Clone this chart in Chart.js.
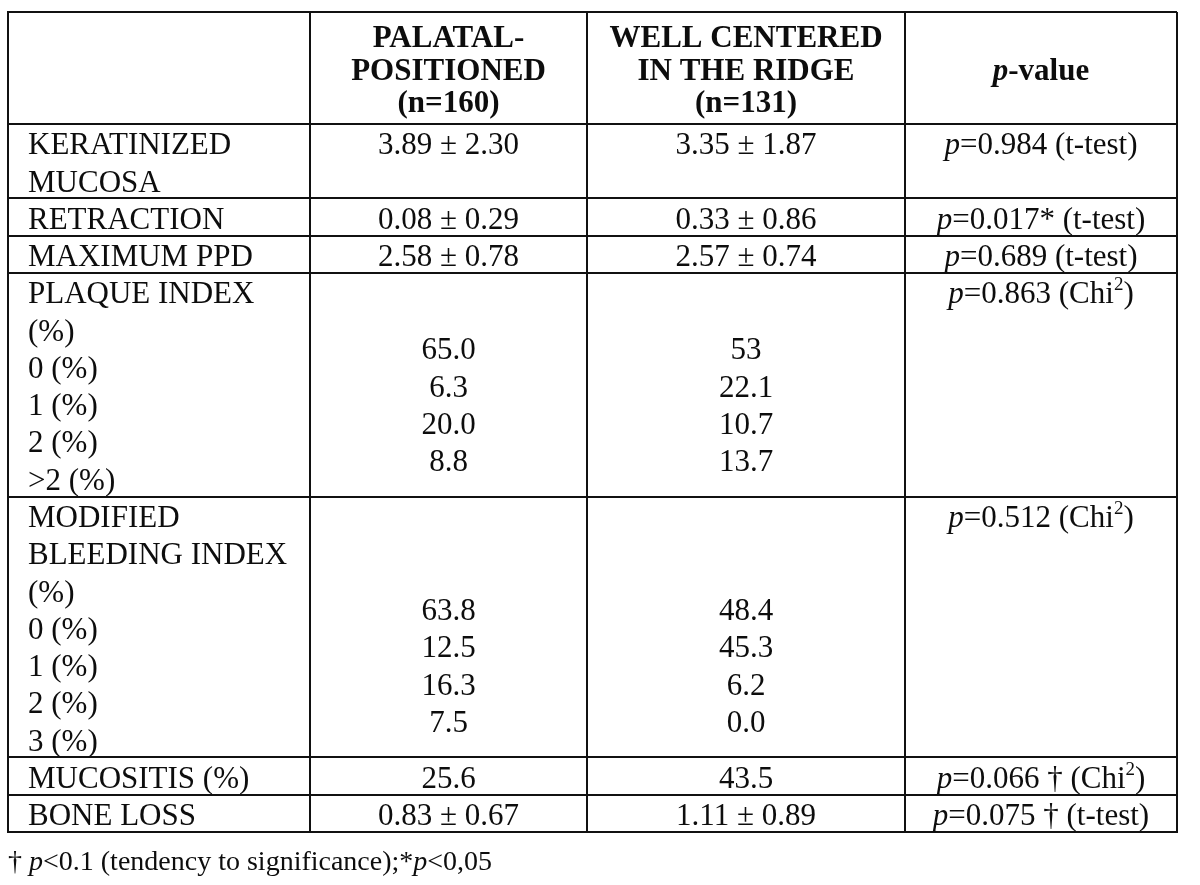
<!DOCTYPE html>
<html>
<head>
<meta charset="utf-8">
<script src="https://cdn.jsdelivr.net/npm/chart.js@4.4.1/dist/chart.umd.min.js"></script>
<style>
  html, body { margin: 0; padding: 0; background: #fff; }
  #wrap { width: 1200px; height: 885px; }
</style>
</head>
<body>
<div id="wrap"><canvas id="table-chart" width="1200" height="885"></canvas></div>
<script>
// table content
const headPalatal = ["PALATAL-", "POSITIONED", "(n=160)"];
const headCentered = ["WELL CENTERED", "IN THE RIDGE", "(n=131)"];
const headPValue = ["", "p-value", ""];

const rowLabels = [
  ["KERATINIZED", "MUCOSA"],
  ["RETRACTION"],
  ["MAXIMUM PPD"],
  ["PLAQUE INDEX", "(%)", "0 (%)", "1 (%)", "2 (%)", ">2 (%)"],
  ["MODIFIED", "BLEEDING INDEX", "(%)", "0 (%)", "1 (%)", "2 (%)", "3 (%)"],
  ["MUCOSITIS (%)"],
  ["BONE LOSS"],
];
const palatalValues = [
  ["3.89 ± 2.30"], ["0.08 ± 0.29"], ["2.58 ± 0.78"],
  ["65.0", "6.3", "20.0", "8.8"],
  ["63.8", "12.5", "16.3", "7.5"],
  ["25.6"], ["0.83 ± 0.67"],
];
const centeredValues = [
  ["3.35 ± 1.87"], ["0.33 ± 0.86"], ["2.57 ± 0.74"],
  ["53", "22.1", "10.7", "13.7"],
  ["48.4", "45.3", "6.2", "0.0"],
  ["43.5"], ["1.11 ± 0.89"],
];
const pValues = [
  "p=0.984 (t-test)", "p=0.017* (t-test)", "p=0.689 (t-test)",
  "p=0.863 (Chi^2)", "p=0.512 (Chi^2)",
  "p=0.066 † (Chi^2)", "p=0.075 † (t-test)",
];
const footnote = "† p<0.1 (tendency to significance);*p<0,05";

// layout
const colWidths = [302, 277, 318, 272];
const FONT = '"Liberation Serif", "Times New Roman", serif';
const SIZE = 31;
const HEAD_SPACING = 0.88; // header lines sit a bit closer than body lines

const colEdges = [0];
colWidths.forEach(w => colEdges.push(colEdges[colEdges.length - 1] + w));
const rowLines = [headPalatal.length].concat(rowLabels.map(r => r.length));
const rowEdges = [0];
rowLines.forEach(n => rowEdges.push(rowEdges[rowEdges.length - 1] + n));

function segments(text) {
  const out = [];
  const re = /p(?=[=<-])|\^(\d)/g;
  let last = 0, m;
  while ((m = re.exec(text))) {
    if (m.index > last) out.push({ t: text.slice(last, m.index), s: "n" });
    if (m[1]) out.push({ t: m[1], s: "sup" });
    else out.push({ t: "p", s: "i" });
    last = re.lastIndex;
  }
  if (last < text.length) out.push({ t: text.slice(last), s: "n" });
  return out;
}

function fontFor(s, size, bold) {
  const w = bold ? "bold " : "";
  if (s === "i") return "italic " + w + size + "px " + FONT;
  if (s === "sup") return w + Math.round(size * 0.62) + "px " + FONT;
  return w + size + "px " + FONT;
}

function drawRich(ctx, text, x, y, align, size, bold) {
  const segs = segments(text);
  let total = 0;
  segs.forEach(sg => {
    ctx.font = fontFor(sg.s, size, bold);
    sg.w = ctx.measureText(sg.t).width;
    total += sg.w;
  });
  let cx = align === "center" ? x - total / 2 : x;
  ctx.textAlign = "left";
  segs.forEach(sg => {
    ctx.font = fontFor(sg.s, size, bold);
    ctx.fillText(sg.t, cx, sg.s === "sup" ? y - size * 0.42 : y);
    cx += sg.w;
  });
}

const tableText = {
  id: "tableText",
  afterDraw(chart) {
    const { ctx, scales: { x, y } } = chart;
    const colMid = i => (x.getPixelForValue(colEdges[i]) + x.getPixelForValue(colEdges[i + 1])) / 2;
    // baseline of a text line: middle of the line plus about a third of the font size
    const lineY = v => y.getPixelForValue(v + 0.5) + SIZE * 0.38;
    ctx.save();
    ctx.fillStyle = "#0d0d0d";
    ctx.textBaseline = "alphabetic";

    // header, centred in its cell
    const headMid = rowEdges[1] / 2;
    [headPalatal, headCentered, headPValue].forEach((lines, c) => {
      lines.forEach((t, i) => {
        const pos = headMid + (i - (lines.length - 1) / 2) * HEAD_SPACING - 0.5;
        if (t) drawRich(ctx, t, colMid(c + 1), lineY(pos), "center", SIZE, true);
      });
    });

    // body rows
    rowLabels.forEach((labels, r) => {
      const start = rowEdges[r + 1];
      const n = labels.length;
      labels.forEach((t, i) => {
        drawRich(ctx, t, x.getPixelForValue(colEdges[0]) + 20, lineY(start + i), "left", SIZE, false);
      });
      [palatalValues[r], centeredValues[r]].forEach((vals, c) => {
        const off = vals.length > 1 ? n - vals.length - 0.5 : 0;
        vals.forEach((t, i) => {
          drawRich(ctx, t, colMid(c + 1), lineY(start + off + i), "center", SIZE, false);
        });
      });
      drawRich(ctx, pValues[r], colMid(3), lineY(start), "center", SIZE, false);
    });

    // footnote
    drawRich(ctx, footnote, x.left, chart.height - 15, "left", 28, false);
    ctx.restore();
  },
};

const gridStyle = { color: "#111", lineWidth: 2, drawTicks: false };
const borderStyle = { color: "#111", width: 2 };

new Chart(document.getElementById("table-chart"), {
  type: "scatter",
  data: { datasets: [] },
  options: {
    responsive: false,
    animation: false,
    events: [],
    layout: { padding: { left: 8, top: 12, right: 23, bottom: 53 } },
    plugins: { legend: { display: false }, tooltip: { enabled: false } },
    scales: {
      x: {
        type: "linear",
        min: 0,
        max: colEdges[colEdges.length - 1],
        grid: gridStyle,
        border: borderStyle,
        ticks: { display: false },
        afterBuildTicks: s => { s.ticks = colEdges.map(v => ({ value: v })); },
        afterFit: s => { s.height = 0; },
      },
      y: {
        type: "linear",
        reverse: true,
        min: 0,
        max: rowEdges[rowEdges.length - 1],
        grid: gridStyle,
        border: borderStyle,
        ticks: { display: false },
        afterBuildTicks: s => { s.ticks = rowEdges.map(v => ({ value: v })); },
        afterFit: s => { s.width = 0; },
      },
    },
  },
  plugins: [tableText],
});
</script>
</body>
</html>
